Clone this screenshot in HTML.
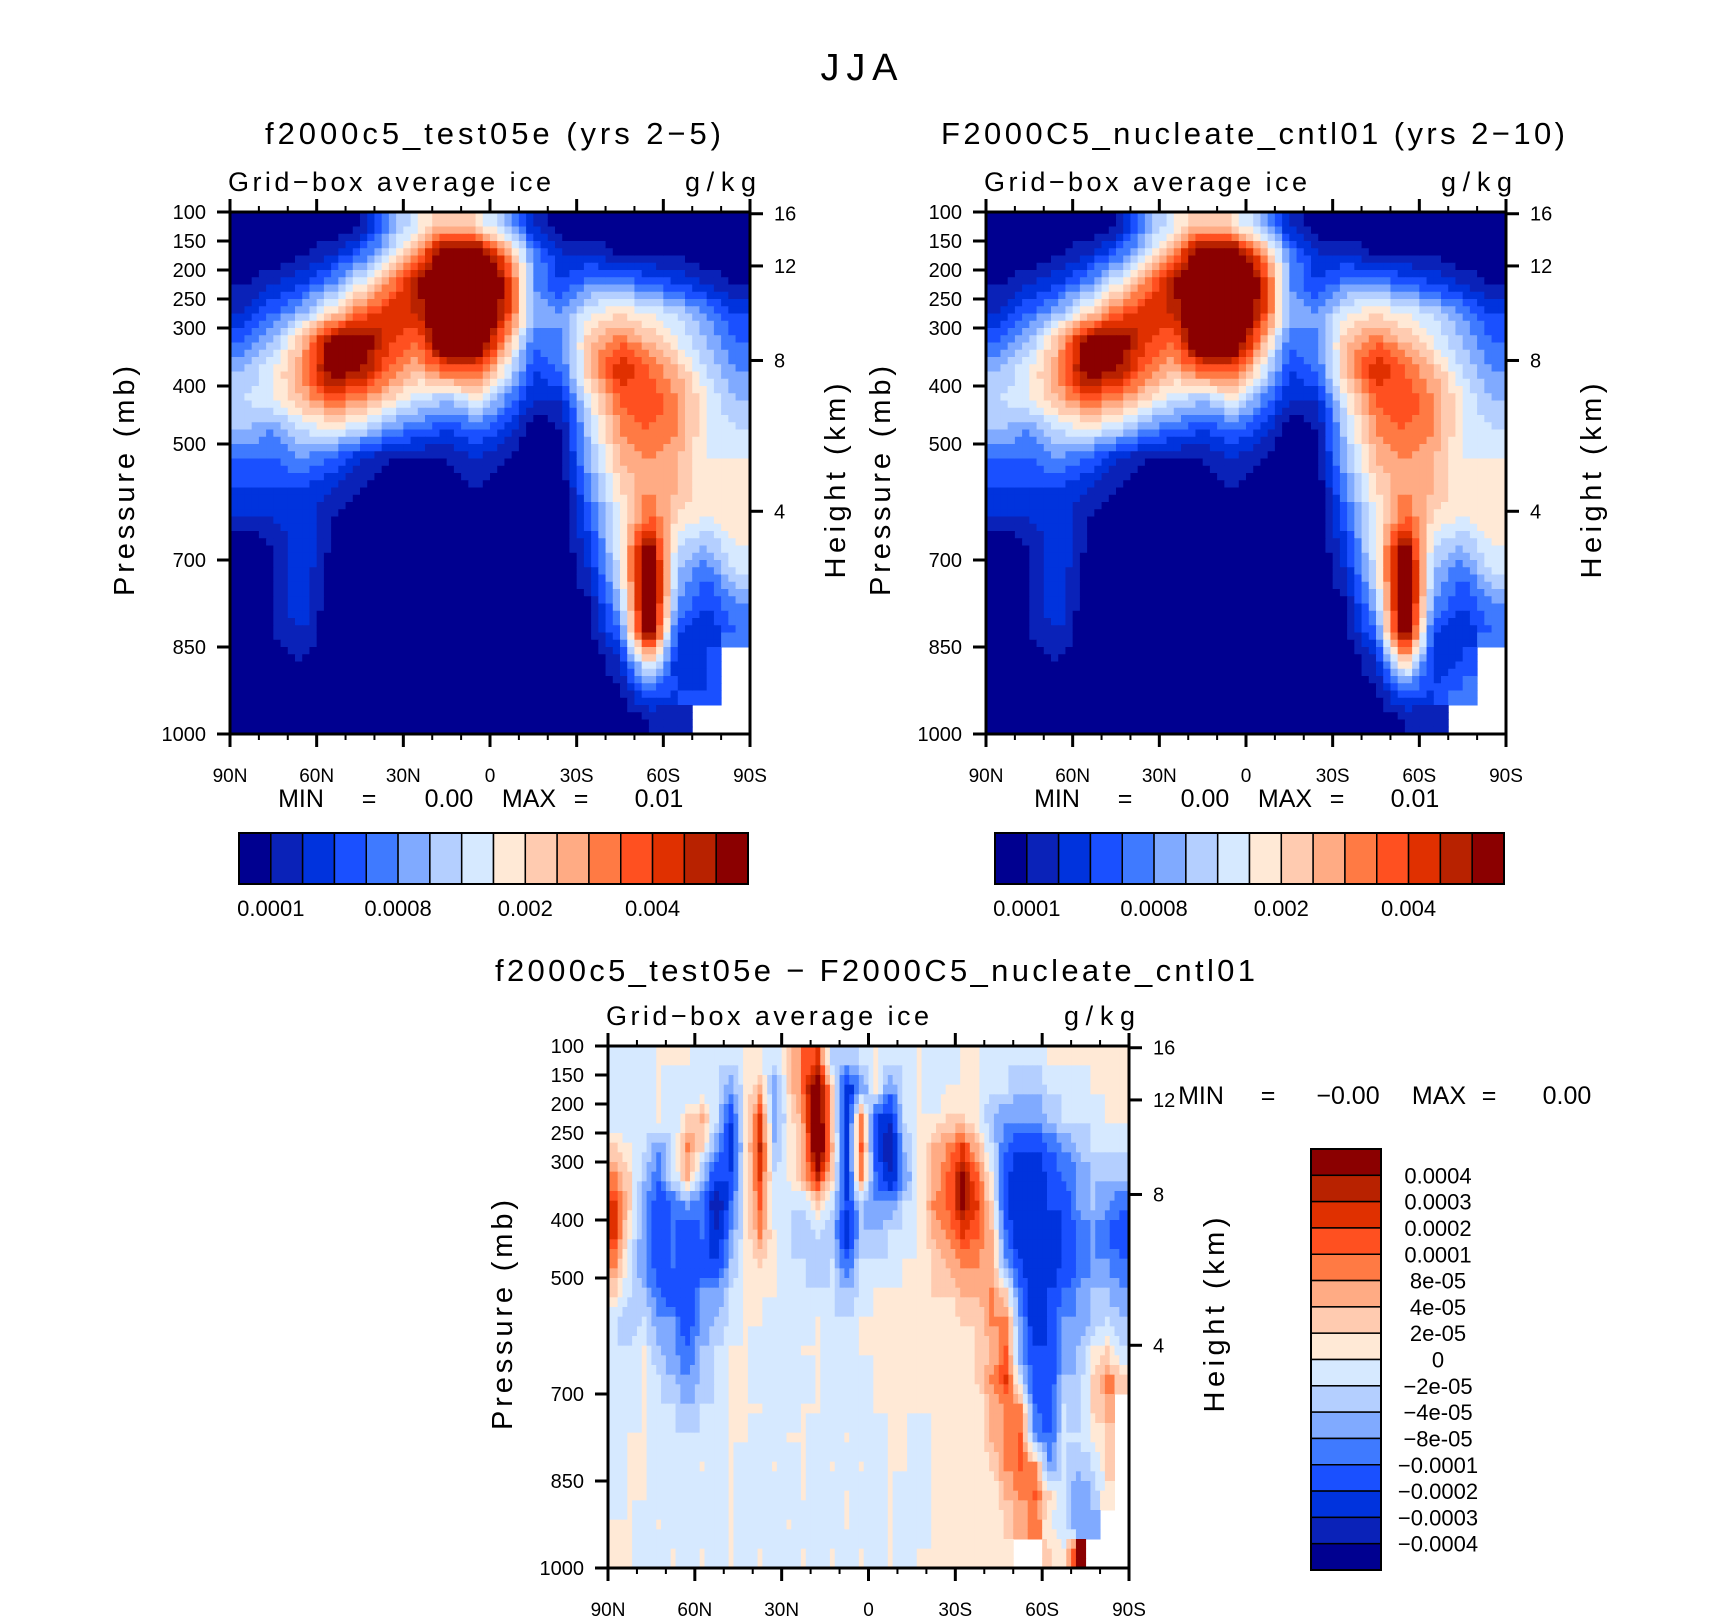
<!DOCTYPE html>
<html><head><meta charset="utf-8"><style>
html,body{margin:0;padding:0;background:#fff;}
svg{display:block;font-family:"Liberation Sans",sans-serif;}
</style></head><body>
<svg id="fig" xmlns="http://www.w3.org/2000/svg" width="1710" height="1616" viewBox="0 0 1710 1616">
<rect width="1710" height="1616" fill="#fff"/>
<text x="859" y="80" font-size="38" text-anchor="middle" textLength="77">JJA</text>
</svg>
<script>
// ---------- data ----------
const palette = ['#000090','#0a22b8','#0033dd','#1a50ff','#3f7aff','#80aaff','#b4cfff','#d6e9ff','#ffe9d6','#ffcbb0','#ffab84','#ff7a44','#ff5020','#e03000','#b82200','#8b0000'];
const contourLevels = [1,2,3,4,5,6,7,8,9,10,11,12,13,14,15];
const topLats = [85,75,65,55,45,35,25,15,5,-5,-15,-25,-35,-45,-55,-65,-75,-85];
const diffLats = [87.5,82.5,77.5,72.5,67.5,62.5,57.5,52.5,47.5,42.5,37.5,32.5,27.5,22.5,17.5,12.5,7.5,2.5,-2.5,-7.5,-12.5,-17.5,-22.5,-27.5,-32.5,-37.5,-42.5,-47.5,-52.5,-57.5,-62.5,-67.5,-72.5,-77.5,-82.5,-87.5];
const pressures = [125,175,225,275,325,375,425,475,525,575,625,675,725,775,825,875,925,975];
const pressureTicks = [100,150,200,250,300,400,500,700,850,1000];
const heightTicks = [16,12,8,4];
const heightTickPressures = [103,193,356,616];
const latTicks = [90,60,30,0,-30,-60,-90];
const latTickLabels = ['90N','60N','30N','0','30S','60S','90S'];
const topBarLabels = ['0.0001','0.0008','0.002','0.004'];
const topBarLabelIdx = [1,5,9,13];
const diffBarLabels = ['0.0004','0.0003','0.0002','0.0001','8e-05','4e-05','2e-05','0','\u22122e-05','\u22124e-05','\u22128e-05','\u22120.0001','\u22120.0002','\u22120.0003','\u22120.0004'];

const testField = [
[0,0,0,0,1,5,8,10,9,6,2,0,0,0,0,0,0,0],
[0,0,1,2,4,7,11,18,18,12,5,2,2,1,1,1,0,0],
[1,2,3,5,8,11,15,19,19,15,5,3,5,5,4,3,2,1],
[2,4,6,9,12,14,14,19,19,14,6,5,8,9,8,7,5,3],
[4,6,10,16,17,13,12,18,18,11,4,5,10,12,10,8,6,4],
[6,8,11,16,15,12,10,12,12,8,3,4,10,14,12,10,7,5],
[7,8,10,12,11,9,7,6,8,5,2,2,8,12,13,11,8,6],
[6,5,7,8,7,5,4,3,4,3,0,1,7,11,12,11,8,7],
[4,4,5,4,2,1,1,1,2,1,0,1,6,10,11,10,8,8],
[3,3,3,2,1,0,0,0,1,0,0,0,5,9,11,10,8,8],
[2,2,3,1,0,0,0,0,0,0,0,0,4,8,12,9,8,9],
[0,1,3,1,0,0,0,0,0,0,0,0,3,8,16,7,6,8],
[0,1,3,0,0,0,0,0,0,0,0,0,2,7,18,6,4,7],
[0,1,3,0,0,0,0,0,0,0,0,0,1,6,18,5,3,5],
[0,1,2,0,0,0,0,0,0,0,0,0,1,4,17,3,2,4],
[0,0,1,0,0,0,0,0,0,0,0,0,0,2,9,2,3,null],
[0,0,0,0,0,0,0,0,0,0,0,0,0,1,4,3,3,null],
[0,0,0,0,0,0,0,0,0,0,0,0,0,0,1,1,null,null]];

const cntlField = [
[0,0,0,0,1,5,8,10,9,6,2,0,0,0,0,0,0,0],
[0,0,1,2,4,7,11,18,18,12,5,2,2,1,1,1,0,0],
[1,2,3,5,8,11,15,19,19,15,5,3,5,5,4,3,2,1],
[2,4,6,9,12,14,14,19,19,14,6,5,8,9,8,7,5,3],
[4,6,10,16,17,13,12,18,18,11,4,5,10,12,10,8,6,4],
[6,8,11,16,15,12,10,12,12,8,3,4,10,14,12,10,7,5],
[7,8,10,12,11,9,7,6,8,5,2,2,8,12,13,11,8,6],
[6,5,7,8,7,5,4,3,4,3,0,1,7,11,12,11,8,7],
[4,4,5,4,2,1,1,1,2,1,0,1,6,10,11,10,8,8],
[3,3,3,2,1,0,0,0,1,0,0,0,5,9,11,10,8,8],
[2,2,3,1,0,0,0,0,0,0,0,0,4,8,12,9,8,9],
[0,1,3,1,0,0,0,0,0,0,0,0,3,8,16,7,6,8],
[0,1,3,0,0,0,0,0,0,0,0,0,2,7,18,6,4,7],
[0,1,3,0,0,0,0,0,0,0,0,0,1,6,18,5,3,5],
[0,1,2,0,0,0,0,0,0,0,0,0,1,4,17,3,2,4],
[0,0,1,0,0,0,0,0,0,0,0,0,0,2,10,2,3,null],
[0,0,0,0,0,0,0,0,0,0,0,0,0,1,4,3,4,null],
[0,0,0,0,0,0,0,0,0,0,0,0,0,0,1,1,null,null]];

const diffField = [
[7,7,7,8,8,8,7,7,7,8,8,7,9,12,13,6,6,7,8,7,7,8,7,7,8,8,7,7,7,7,8,8,8,8,8,8],
[7,7,7,8,7,7,7,7,5,8,10,5,9,12,18,9,2,5,8,5,7,8,7,8,8,8,7,7,6,6,7,7,7,8,8,8],
[7,7,7,8,7,9,10,7,3,8,13,5,8,11,18,9,2,11,3,2,7,8,8,9,9,8,6,5,5,5,6,7,7,7,8,8],
[9,8,7,5,7,11,9,5,2,8,14,6,8,10,18,10,2,12,3,1,6,8,10,11,13,10,7,4,3,3,4,5,6,7,7,7],
[11,9,6,4,7,10,6,3,3,8,13,7,8,10,14,9,2,11,4,2,5,8,10,12,15,12,8,3,2,2,3,4,5,6,6,6],
[13,9,5,3,4,5,4,1,4,8,12,7,7,7,9,7,3,6,5,5,7,8,11,12,15,13,9,3,2,2,3,3,5,6,5,4],
[13,8,5,3,4,3,4,2,5,8,11,8,7,6,7,6,2,6,6,7,7,8,10,11,13,12,10,4,2,2,2,3,4,5,4,3],
[11,7,5,3,4,3,3,3,6,8,9,8,7,7,6,7,4,7,7,7,8,8,9,10,11,11,10,5,3,2,2,3,4,5,5,4],
[9,7,6,4,3,3,5,5,7,8,8,8,7,7,7,7,6,7,8,8,8,8,9,9,10,10,11,9,4,2,3,4,5,6,6,5],
[7,6,7,5,5,3,5,6,7,8,8,7,7,7,8,7,7,8,8,8,8,8,8,8,9,9,11,11,5,2,3,5,5,6,7,6],
[7,7,8,6,5,4,6,7,8,8,7,7,7,8,8,7,7,8,8,8,8,8,8,8,8,9,10,12,5,3,3,5,6,8,9,7],
[7,7,8,7,6,5,6,7,8,8,7,7,7,7,8,7,7,7,8,8,8,8,8,8,8,9,11,13,7,3,3,6,6,9,11,9],
[7,7,8,7,7,6,7,7,8,8,8,7,7,8,8,7,7,7,8,8,8,8,8,8,8,8,10,11,11,4,3,7,6,9,10,null],
[7,8,8,7,7,7,7,7,8,8,7,7,8,8,7,7,8,7,7,8,8,7,8,8,8,8,10,11,12,5,4,7,7,8,9,null],
[7,8,8,7,7,7,8,7,8,7,7,8,7,8,7,8,7,8,7,8,8,7,8,8,8,8,9,11,12,11,5,7,6,7,9,null],
[7,8,8,7,7,7,7,7,8,7,7,7,7,8,7,7,8,7,7,8,7,7,8,8,8,8,8,10,11,12,9,7,5,6,8,null],
[8,8,7,8,7,7,7,7,8,7,7,7,8,7,7,7,8,7,7,8,7,7,8,8,8,8,8,9,10,11,8,7,5,5,null,null],
[8,8,7,7,8,7,8,7,8,7,8,7,7,8,7,8,7,8,7,8,7,8,8,8,8,8,8,8,null,null,9,8,15,null,null,null]];

// ---------- drawing ----------
const NS='http://www.w3.org/2000/svg';
const svg=document.getElementById('fig');
function el(tag,attrs,parent,text){const e=document.createElementNS(NS,tag);for(const k in attrs)e.setAttribute(k,attrs[k]);if(text!==undefined)e.textContent=text;(parent||svg).appendChild(e);return e;}
function levelIndex(v){let i=0;for(const l of contourLevels){if(v>=l)i++;}return i;}

function sample(field,fr,fc){
  const nr=field.length,nc=field[0].length;
  fr=Math.max(0,Math.min(nr-1,fr));fc=Math.max(0,Math.min(nc-1,fc));
  const r0=Math.floor(fr),c0=Math.floor(fc),r1=Math.min(nr-1,r0+1),c1=Math.min(nc-1,c0+1);
  const tr=fr-r0,tc=fc-c0;
  const a=field[r0][c0],b=field[r0][c1],c=field[r1][c0],d=field[r1][c1];
  if(a===null||b===null||c===null||d===null){
    const rr=Math.round(fr),cc=Math.round(fc);return field[rr][cc];
  }
  return (a*(1-tc)+b*tc)*(1-tr)+(c*(1-tc)+d*tc)*tr;
}

function makePanel(opt){
  const g=el('g',{});
  
  
  const L=opt.x,T=opt.y,W=opt.w,H=opt.h;
  const xScale=lat=>L+(90-lat)/180*W;
  const yScale=p=>T+(p-100)/900*H;
  const lats=opt.lats, field=opt.field;
  const dLat=Math.abs(lats[0]-lats[1]);
  const cells=el('g',{},g);
  
  
  const S=opt.sub;
  for(let r=0;r<pressures.length;r++){
    for(let c=0;c<lats.length;c++){
      if(field[r][c]===null)continue;
      const x0=xScale(lats[c]+dLat/2),x1=xScale(lats[c]-dLat/2);
      const y0=yScale(pressures[r]-25),y1=yScale(pressures[r]+25);
      const sw=(x1-x0)/S,sh=(y1-y0)/S;
      for(let i=0;i<S;i++){for(let j=0;j<S;j++){
        const fr=r+(i+0.5)/S-0.5, fc=c+(j+0.5)/S-0.5;
        const v=sample(field,fr,fc);
        if(v===null)continue;
        const rc=el('rect',{x:(x0+j*sw).toFixed(2),y:(y0+i*sh).toFixed(2),width:(sw+0.5).toFixed(2),height:(sh+0.5).toFixed(2),fill:palette[levelIndex(v)]},cells);
        
        
      }}
    }
  }
  const fr=el('rect',{x:L,y:T,width:W,height:H,fill:'none',stroke:'#000','stroke-width':3},g);
  
  
  for(let lat=90;lat>=-90;lat-=10){
    const x=xScale(lat), major=(lat%30===0);
    const len=major?13:6;
    el('line',{x1:x,x2:x,y1:T+H,y2:T+H+len,stroke:'#000','stroke-width':major?3:2},g);
    el('line',{x1:x,x2:x,y1:T,y2:T-len,stroke:'#000','stroke-width':major?3:2},g);
  }
  latTicks.forEach((lat,i)=>{
    const t=el('text',{x:xScale(lat),y:T+H+48,'font-size':19,'text-anchor':'middle'},g,latTickLabels[i]);
    
    
  });
  pressureTicks.forEach(p=>{
    const y=yScale(p);
    el('line',{x1:L-13,x2:L,y1:y,y2:y,stroke:'#000','stroke-width':3},g);
    const t=el('text',{x:L-24,y:y+7,'font-size':20,'text-anchor':'end'},g,String(p));
    
    
  });
  heightTicks.forEach((h,i)=>{
    const y=yScale(heightTickPressures[i]);
    el('line',{x1:L+W,x2:L+W+13,y1:y,y2:y,stroke:'#000','stroke-width':3},g);
    const t=el('text',{x:L+W+24,y:y+7,'font-size':20},g,String(h));
    
    
  });
  const pl=el('text',{x:0,y:0,'font-size':29,'text-anchor':'middle',transform:`translate(${L-96},${T+H/2+8}) rotate(-90)`,textLength:230},g,'Pressure (mb)');
  
  
  const hl=el('text',{x:0,y:0,'font-size':29,'text-anchor':'middle',transform:`translate(${L+W+95},${T+H/2+8}) rotate(-90)`,textLength:195},g,'Height (km)');
  
  
  const gb=el('text',{x:L-2,y:T-21,'font-size':27,textLength:323},g,'Grid\u2212box average ice');
  
  
  const un=el('text',{x:L+W+6,y:T-21,'font-size':27,'text-anchor':'end',textLength:71},g,'g/kg');
  
  
  const ti=el('text',{x:opt.titleX,y:opt.titleY,'font-size':31,'text-anchor':'middle',textLength:opt.titleLen},g,opt.title);
  
  
}

function minMax(x,y,vals,parent){
  const g=el('g',{},parent);
  
  
  vals.forEach(v=>{el('text',{x:x+v[0],y:y,'font-size':25,'text-anchor':'middle'},g,v[1]);});
}

function hBar(x0,y0,w,h){
  const g=el('g',{});
  
  
  const bw=w/palette.length;
  palette.forEach((c,i)=>{
    const r=el('rect',{x:x0+i*bw,y:y0,width:bw,height:h,fill:c,stroke:'#000','stroke-width':1.5},g);
    
    
  });
  el('rect',{x:x0,y:y0,width:w,height:h,fill:'none',stroke:'#000','stroke-width':2},g);
  topBarLabels.forEach((t,i)=>{
    const tx=el('text',{x:x0+topBarLabelIdx[i]*bw,y:y0+83,'font-size':22,'text-anchor':'middle'},g,t);
    
    
  });
}

makePanel({name:'test-panel',x:230,y:212,w:520,h:522,lats:topLats,field:testField,sub:4,title:'f2000c5_test05e (yrs 2\u22125)',titleX:493,titleY:144,titleLen:456});
makePanel({name:'control-panel',x:986,y:212,w:520,h:522,lats:topLats,field:cntlField,sub:4,title:'F2000C5_nucleate_cntl01 (yrs 2\u221210)',titleX:1253,titleY:144,titleLen:624});
makePanel({name:'difference-panel',x:608,y:1046,w:521,h:522,lats:diffLats,field:diffField,sub:3,title:'f2000c5_test05e \u2212 F2000C5_nucleate_cntl01',titleX:875,titleY:981,titleLen:760});

minMax(0,807,[[301,'MIN'],[369,'='],[449,'0.00'],[529,'MAX'],[581,'='],[659,'0.01']]);
minMax(756,807,[[301,'MIN'],[369,'='],[449,'0.00'],[529,'MAX'],[581,'='],[659,'0.01']]);
minMax(0,1104,[[1201,'MIN'],[1268,'='],[1348,'\u22120.00'],[1439,'MAX'],[1489,'='],[1567,'0.00']]);

hBar(239,833,509,51);
hBar(995,833,509,51);

(function(){
  const g=el('g',{});
  
  
  const x0=1311,y0=1149,w=70,h=421,bh=h/palette.length;
  palette.slice().reverse().forEach((c,i)=>{
    const r=el('rect',{x:x0,y:y0+i*bh,width:w,height:bh,fill:c,stroke:'#000','stroke-width':1.5},g);
    
    
  });
  el('rect',{x:x0,y:y0,width:w,height:h,fill:'none',stroke:'#000','stroke-width':2},g);
  diffBarLabels.forEach((t,i)=>{
    const tx=el('text',{x:1438,y:y0+(i+1)*bh+8,'font-size':22,'text-anchor':'middle'},g,t);
    
    
  });
})();
</script>
</body></html>
